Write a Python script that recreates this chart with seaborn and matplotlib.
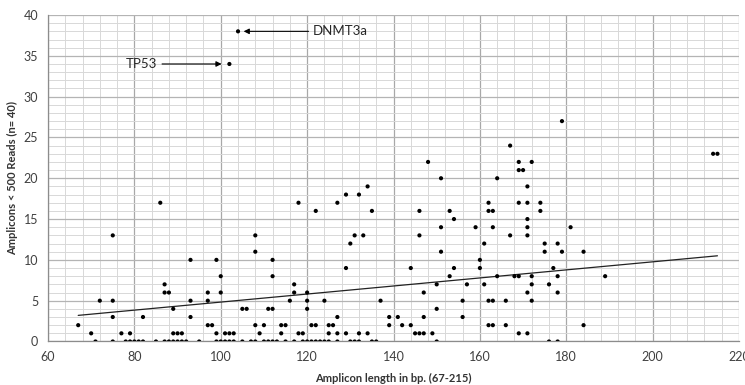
import numpy as np
import pandas as pd
import seaborn as sns
import matplotlib
matplotlib.use("Agg")
import matplotlib.pyplot as plt
from matplotlib.ticker import MultipleLocator

# amplicon length (bp) per count of samples with < 500 reads
rows = {
    0: [71, 75, 78, 79, 80, 81, 82, 85, 87, 88, 89, 90, 91, 92, 95, 99, 100, 101, 102, 103,
        105, 107, 108, 110, 111, 112, 113, 115, 117, 119, 120, 121, 122, 123, 124, 125, 127,
        130, 131, 132, 135, 136, 150, 176, 178],
    1: [70, 77, 79, 89, 90, 91, 99, 101, 102, 103, 109, 114, 118, 119, 125, 127, 129, 132,
        134, 145, 146, 147, 149, 169, 171],
    2: [67, 97, 98, 108, 110, 114, 115, 121, 122, 125, 126, 139, 142, 144, 162, 163, 166, 184],
    3: [75, 82, 93, 127, 139, 141, 147, 156],
    4: [89, 105, 106, 111, 112, 120, 150],
    5: [72, 75, 93, 97, 116, 120, 124, 137, 156, 162, 163, 166, 172],
    6: [87, 88, 97, 100, 117, 120, 147, 171, 178],
    7: [87, 117, 150, 157, 161, 172, 176],
    8: [100, 112, 153, 164, 168, 169, 172, 178, 189],
    9: [129, 144, 154, 160, 177],
    10: [93, 99, 112, 160],
    11: [108, 151, 175, 179, 184],
    12: [130, 161, 175, 178],
    13: [75, 108, 131, 133, 146, 167, 171],
    14: [151, 159, 163, 171, 181],
    15: [154, 171],
    16: [122, 135, 146, 153, 162, 163, 174],
    17: [86, 118, 127, 162, 169, 171, 174],
    18: [129, 132],
    19: [134, 171],
    20: [151, 164],
    21: [169, 170],
    22: [148, 169, 172],
    23: [214, 215],
    24: [167],
    27: [179],
    34: [102],
    38: [104],
}

# linear trendline as shown in the figure (read at its ends)
trend_x = [67, 215]
trend_y = [3.2, 10.5]

length = [x for n, xs in rows.items() for x in xs]
count = [n for n, xs in rows.items() for x in xs]
df = pd.DataFrame({"length": length, "count": count})
df_trend = pd.DataFrame({"length": trend_x, "count": trend_y})

sns.set_style("white")
plt.rcParams['font.family'] = ['Lato', 'DejaVu Sans']

fig, ax = plt.subplots(figsize=(7.45, 3.85), dpi=100)
fig.subplots_adjust(left=0.0644, right=0.992, top=0.961, bottom=0.113)

sns.scatterplot(data=df, x="length", y="count", color="black", s=9,
                edgecolor="none", ax=ax, zorder=3)
sns.lineplot(data=df_trend, x="length", y="count", color="#222222", lw=0.9, ax=ax)

ax.set_xlim(60, 220)
ax.set_ylim(0, 40)
ax.xaxis.set_major_locator(MultipleLocator(20))
ax.xaxis.set_minor_locator(MultipleLocator(4))
ax.yaxis.set_major_locator(MultipleLocator(5))
ax.yaxis.set_minor_locator(MultipleLocator(1))
ax.grid(which="major", axis="x", color="#a8a8a8", lw=0.9)
ax.grid(which="major", axis="y", color="#b4b4b4", lw=0.9)
ax.grid(which="minor", color="#d8d8d8", lw=0.7)
ax.set_axisbelow(True)

for s in ["top", "right"]:
    ax.spines[s].set_visible(False)
for s in ["left", "bottom"]:
    ax.spines[s].set_color("#8c8c8c")
    ax.spines[s].set_linewidth(0.9)

ax.tick_params(which="major", direction="out", length=4, color="#8c8c8c",
               labelsize=9, labelcolor="#404040", pad=3)
ax.tick_params(which="minor", length=0)

ax.set_xlabel("Amplicon length in bp. (67-215)", fontsize=8, fontweight="bold",
              color="#333333", labelpad=7)
ax.set_ylabel("Amplicons < 500 Reads (n= 40)", fontsize=8, fontweight="bold",
              color="#333333", labelpad=4)

arrow = dict(arrowstyle="-|>", color="black", lw=0.8, mutation_scale=8,
             shrinkA=1, shrinkB=0)
ax.annotate("TP53", xy=(100.2, 34), xytext=(81.7, 34), ha="center", va="center",
            fontsize=9.5, arrowprops=arrow)
ax.annotate("DNMT3a", xy=(105.3, 38), xytext=(121.4, 38), ha="left", va="center",
            fontsize=9.5, arrowprops=arrow)

fig.savefig("out.png", dpi=100)
